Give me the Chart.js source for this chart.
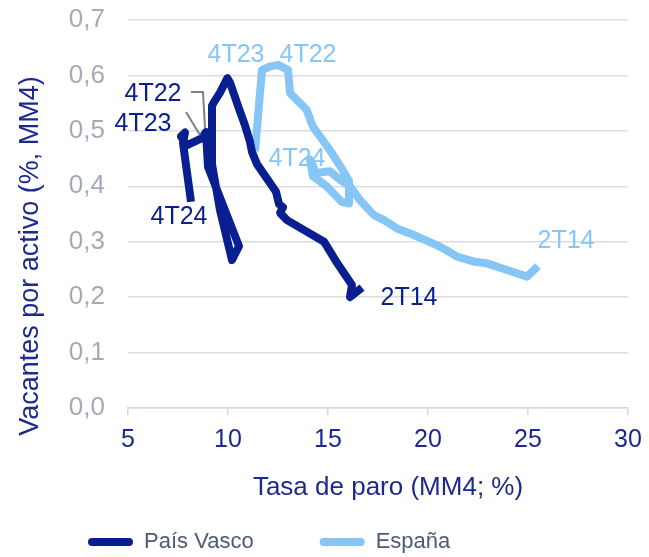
<!DOCTYPE html>
<html>
<head>
<meta charset="utf-8">
<script src="https://cdn.jsdelivr.net/npm/chart.js@4.4.1/dist/chart.umd.min.js"></script>
<style>
  html, body { margin: 0; padding: 0; background: #fff; }
  #wrap { width: 649px; height: 557px; }
</style>
</head>
<body>
<div id="wrap"><canvas id="beveridgeChart" width="649" height="557"></canvas></div>
<script>
// Curva de Beveridge: tasa de paro (MM4, %) frente a vacantes por activo (%, MM4)
// Trimestres de 2T14 a 4T24, en orden temporal
const paroPaisVasco = [16.7, 16.1, 16.2, 15.45, 14.8, 13.85, 12.95, 12.6, 12.75, 12.55, 12.4, 12.1,
  11.45, 11.2, 11.1, 10.85, 10.5, 10.1, 9.97, 9.6, 9.3, 9.2, 9.2, 9.6, 10.2, 10.55, 9.0,
  8.9, 8.7, 7.95, 7.65, 7.85, 7.75, 8.15];
const vacPaisVasco = [0.217, 0.200, 0.222, 0.262, 0.300, 0.320, 0.339, 0.352, 0.362, 0.368, 0.390, 0.406,
  0.440, 0.462, 0.480, 0.510, 0.545, 0.587, 0.595, 0.569, 0.552, 0.545, 0.440, 0.357, 0.267, 0.292, 0.435,
  0.498, 0.487, 0.474, 0.490, 0.497, 0.478, 0.372];

const paroEspana = [25.5, 24.95, 23.95, 22.95, 22.3, 21.45, 20.9, 20.6, 19.3, 18.45, 17.8, 17.3,
  16.6, 16.1, 15.6, 15.1, 14.4, 14.1, 14.25, 14.93, 15.68, 16.05, 16.05, 15.6, 15.1, 14.25,
  13.93, 13.1, 13.0, 12.5, 12.1, 11.7, 11.35];
const vacEspana = [0.256, 0.237, 0.249, 0.261, 0.264, 0.273, 0.285, 0.291, 0.312, 0.324, 0.339, 0.348,
  0.375, 0.400, 0.412, 0.427, 0.424, 0.448, 0.418, 0.400, 0.372, 0.369, 0.410, 0.437, 0.465, 0.507,
  0.538, 0.568, 0.610, 0.619, 0.616, 0.610, 0.463];

const xTicks = [5, 10, 15, 20, 25, 30];
const yTicks = [0, 0.1, 0.2, 0.3, 0.4, 0.5, 0.6, 0.7];

const colorPV = '#0a1f8f';
const colorES = '#86c6f7';
const colorTexto = '#1b2a8c';

// etiquetas de trimestre: punto al que se refieren y desplazamiento del texto en px
const etiquetasPV = [
  { texto: '2T14', i: 0, dx: 47, dy: 10 },
  { texto: '4T22', i: 27, dx: -53, dy: -38, guia: [[-1, -4], [-3, -40], [-15, -40]] },
  { texto: '4T23', i: 28, dx: -59, dy: -14, guia: [[-2, -3], [-16, -26]] },
  { texto: '4T24', i: 33, dx: -12, dy: 15 }
];
const etiquetasES = [
  { texto: '2T14', i: 0, dx: 28, dy: -25 },
  { texto: '4T22', i: 28, dx: 20, dy: -15 },
  { texto: '4T23', i: 31, dx: -26, dy: -15 },
  { texto: '4T24', i: 32, dx: 42, dy: 8 }
];

const toPoints = (xs, ys) => xs.map((x, i) => ({ x: x, y: ys[i] }));

const font = 'Liberation Sans, Arial, sans-serif';

const etiquetasPlugin = {
  id: 'etiquetas',
  afterDatasetsDraw(chart) {
    const ctx = chart.ctx;
    const sx = chart.scales.x, sy = chart.scales.y;
    const draw = (lista, xs, ys, color) => {
      lista.forEach(e => {
        const px = sx.getPixelForValue(xs[e.i]);
        const py = sy.getPixelForValue(ys[e.i]);
        if (e.guia) {
          ctx.save();
          ctx.strokeStyle = '#808080';
          ctx.lineWidth = 2;
          ctx.beginPath();
          e.guia.forEach((p, k) => {
            if (k === 0) ctx.moveTo(px + p[0], py + p[1]);
            else ctx.lineTo(px + p[0], py + p[1]);
          });
          ctx.stroke();
          ctx.restore();
        }
        ctx.save();
        ctx.font = '25px ' + font;
        ctx.fillStyle = color;
        ctx.textAlign = 'center';
        ctx.textBaseline = 'middle';
        ctx.fillText(e.texto, px + e.dx, py + e.dy);
        ctx.restore();
      });
    };
    draw(etiquetasPV, paroPaisVasco, vacPaisVasco, colorPV);
    draw(etiquetasES, paroEspana, vacEspana, colorES);
  },
  afterDraw(chart) {
    // titulos de los ejes
    const ctx = chart.ctx;
    ctx.save();
    ctx.fillStyle = colorTexto;
    ctx.textAlign = 'center';
    ctx.textBaseline = 'middle';
    ctx.font = '26px ' + font;
    ctx.fillText('Tasa de paro (MM4; %)', 388, 488);
    ctx.font = '27px ' + font;
    ctx.translate(31, 256);
    ctx.rotate(-Math.PI / 2);
    ctx.fillText('Vacantes por activo (%, MM4)', 0, 0);
    ctx.restore();
  }
};

new Chart(document.getElementById('beveridgeChart'), {
  type: 'scatter',
  data: {
    datasets: [{
      label: 'País Vasco',
      data: toPoints(paroPaisVasco, vacPaisVasco),
      showLine: true,
      borderColor: colorPV,
      backgroundColor: colorPV,
      borderWidth: 8,
      borderJoinStyle: 'round',
      pointRadius: 0
    }, {
      label: 'España',
      data: toPoints(paroEspana, vacEspana),
      showLine: true,
      borderColor: colorES,
      backgroundColor: colorES,
      borderWidth: 8,
      borderJoinStyle: 'round',
      pointRadius: 0
    }]
  },
  options: {
    responsive: false,
    animation: false,
    layout: { padding: { left: 22, right: 21, top: 20, bottom: -6 } },
    plugins: {
      tooltip: { enabled: false },
      legend: {
        position: 'bottom',
        align: 'start',
        labels: {
          boxWidth: 45,
          boxHeight: 8,
          padding: 66,
          useBorderRadius: true,
          borderRadius: 4,
          color: '#4d5a73',
          font: { family: font, size: 22 },
          generateLabels(chart) {
            return chart.data.datasets.map((ds, i) => ({
              text: ds.label,
              fillStyle: ds.borderColor,
              strokeStyle: ds.borderColor,
              lineWidth: 0,
              fontColor: '#4d5a73',
              datasetIndex: i,
              borderRadius: 4
            }));
          }
        }
      }
    },
    scales: {
      x: {
        type: 'linear',
        min: 5,
        max: 30,
        afterBuildTicks: s => { s.ticks = xTicks.map(v => ({ value: v })); },
        afterFit: s => { s.height = 57; },
        grid: { drawOnChartArea: false, drawTicks: true, tickLength: 7, color: '#d3d8de', lineWidth: 1.5 },
        border: { color: '#d3d8de', width: 1.5 },
        ticks: { color: colorTexto, padding: 4, font: { family: font, size: 25, lineHeight: 1.7 } }
      },
      y: {
        min: 0,
        max: 0.7,
        afterBuildTicks: s => { s.ticks = yTicks.map(v => ({ value: v })); },
        afterFit: s => { s.width = 106; },
        grid: { drawTicks: true, tickLength: 21, tickColor: 'rgba(0,0,0,0)', color: '#d9dde3', lineWidth: 1.5 },
        border: { display: false },
        ticks: {
          color: '#a3abb6',
          padding: 2,
          font: { family: font, size: 26 },
          callback: v => v.toFixed(1).replace('.', ',')
        }
      }
    }
  },
  plugins: [etiquetasPlugin]
});
</script>
</body>
</html>
